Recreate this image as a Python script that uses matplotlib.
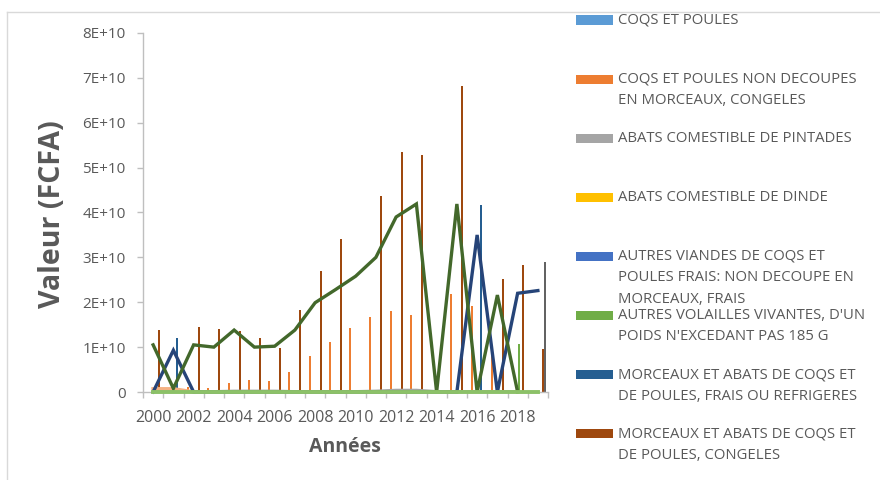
"""
Importations de volailles (FCFA), 2000-2019 : barres groupées + courbes,
façon graphique Excel combiné avec légende tronquée à droite.
"""
import numpy as np
import matplotlib
matplotlib.use("Agg")
import matplotlib.pyplot as plt
from matplotlib.patches import Rectangle
from matplotlib.ticker import FuncFormatter

nan = np.nan

# ── Données (valeurs en 1E+10 FCFA) ───────────────────────────────────────────

YEARS = list(range(2000, 2020))

# séries en barres
NON_DECOUPES_CONGELES = [0, 0, 0.12, 0.10, 0.19, 0.27, 0.25, 0.44, 0.81, 1.11,
                         1.42, 1.68, 1.80, 1.71, 0, 2.18, 1.92, 1.00, 0, 0]
VOLAILLES_VIVANTES = [0, 0, 0, 0, 0, 0, 0, 0, 0, 0,
                      0, 0, 0, 0, 0, 0, 0, 0, 1.08, 0]
MORCEAUX_FRAIS = [0, 1.21, 0, 0, 0, 0, 0, 0, 0, 0,
                  0, 0, 0, 0, 0, 0, 4.16, 0, 0, 0]
MORCEAUX_CONGELES = [1.38, 0, 1.45, 1.40, 1.36, 1.21, 0.99, 1.83, 2.69, 3.42,
                     0, 4.37, 5.34, 5.29, 0, 6.82, 0, 2.52, 2.83, 0.95]
SERIE_9 = [0, 0, 0, 0, 0, 0, 0, 0, 0, 0,
           0, 0, 0, 0, 0, 0, 0, 0, 0, 2.89]

# séries en courbes
COURBE_VERT_FONCE = [1.05, 0.08, 1.05, 1.00, 1.38, 1.00, 1.02, 1.38, 1.99, 2.28,
                     2.58, 3.00, 3.90, 4.19, 0, 4.19, 0, 2.16, 0, nan]
COURBE_BLEU_FONCE = [0, 0.93, 0, 0, 0, 0, 0, 0, 0, 0,
                     0, 0, 0, 0, 0, 0, 3.50, 0, 2.20, 2.26]
COURBE_GRISE = [0.02, 0.02, 0.02, 0.02, 0.03, 0.03, 0.03, 0.02, 0.02, 0.02,
                0.02, 0.03, 0.05, 0.05, 0.02, 0.02, 0.02, 0.02, 0.02, nan]
COURBE_ORANGE_CLAIR = [0.07, 0.07, 0, nan, nan, nan, nan, nan, nan, nan,
                       nan, nan, nan, nan, nan, nan, nan, nan, nan, nan]
COURBE_VERT_CLAIR = [0] * 20

LEGEND_LABELS = [
    "COQS ET POULES",
    "COQS ET POULES NON DECOUPES\nEN MORCEAUX, CONGELES",
    "ABATS COMESTIBLE DE PINTADES",
    "ABATS COMESTIBLE DE DINDE",
    "AUTRES VIANDES DE COQS ET\nPOULES FRAIS: NON DECOUPE EN\nMORCEAUX, FRAIS",
    "AUTRES VOLAILLES VIVANTES, D'UN\nPOIDS N'EXCEDANT PAS 185 G",
    "MORCEAUX ET ABATS DE COQS ET\nDE POULES, FRAIS OU REFRIGERES",
    "MORCEAUX ET ABATS DE COQS ET\nDE POULES, CONGELES",
]
LEGEND_COLORS = ["#5B9BD5", "#ED7D31", "#A5A5A5", "#FFC000",
                 "#4472C4", "#70AD47", "#255E91", "#9E480E"]

# ── Style ─────────────────────────────────────────────────────────────────────

W, H = 880, 480
TXT = "#595959"
AXC = "#BFBFBF"
plt.rcParams["font.family"] = ["Open Sans", "DejaVu Sans"]


def fx(px):
    return px / W


def fy(py):
    return 1 - py / H


fig = plt.figure(figsize=(W / 100, H / 100), dpi=100)
fig.patch.set_facecolor("white")
ax = fig.add_axes([fx(143), fy(392), fx(548) - fx(143), fy(33) - fy(392)])

years = np.array(YEARS)
scale = 1e10

# Excel clustered layout : 9 slots de barres, gap 219 %
N_SLOTS, GAP = 9, 2.19
slot = 1 / (N_SLOTS + GAP)


def slot_x(i):
    return years - 0.5 + (GAP / 2 + i + 0.5) * slot


bars = [
    (NON_DECOUPES_CONGELES, 1, "#ED7D31"),
    (VOLAILLES_VIVANTES, 5, "#70AD47"),
    (MORCEAUX_FRAIS, 6, "#255E91"),
    (MORCEAUX_CONGELES, 7, "#9E480E"),
    (SERIE_9, 8, "#636363"),
]
for vals, i, col in bars:
    ax.bar(slot_x(i), np.array(vals) * scale, width=slot * 1.1,
           color=col, linewidth=0, zorder=2)

lines = [
    (COURBE_GRISE, "#A5A5A5", 1.5),
    (COURBE_ORANGE_CLAIR, "#F4B183", 2.6),
    (COURBE_BLEU_FONCE, "#264478", 2.4),
    (COURBE_VERT_FONCE, "#43682B", 2.4),
    (COURBE_VERT_CLAIR, "#8CC168", 2.8),
]
for k, (vals, col, lw) in enumerate(lines):
    ax.plot(years, np.array(vals) * scale, color=col, lw=lw,
            solid_joinstyle="miter", zorder=3 + k, clip_on=False)

# ── Axes ──────────────────────────────────────────────────────────────────────

ax.set_xlim(1999.5, 2019.5)
ax.set_ylim(0, 8e10)
for s in ("top", "right"):
    ax.spines[s].set_visible(False)
for s in ("left", "bottom"):
    ax.spines[s].set_color(AXC)
    ax.spines[s].set_linewidth(1.0)

ax.set_yticks(np.arange(0, 9) * 1e10)
ax.yaxis.set_major_formatter(
    FuncFormatter(lambda v, _: "0" if v == 0 else f"{v / 1e10:.0f}E+10"))
ax.tick_params(axis="y", direction="out", length=4.5, width=1, color=AXC,
               labelcolor=TXT, labelsize=11, pad=8)

ax.set_xticks(np.arange(1999.5, 2020, 1))
ax.set_xticklabels([])
ax.set_xticks(years[::2], minor=True)
ax.set_xticklabels([str(y) for y in YEARS[::2]], minor=True)
ax.tick_params(axis="x", which="major", direction="out", length=4.5, width=1,
               color=AXC)
ax.tick_params(axis="x", which="minor", length=0, labelcolor=TXT,
               labelsize=11.5, pad=13)

fig.text(fx(345), fy(447), "Années", ha="center", va="center",
         fontsize=14, fontweight="bold", color=TXT)
fig.text(fx(53), fy(214), "Valeur (FCFA)", ha="center", va="center",
         rotation=90, fontsize=20.5, fontweight="bold", color=TXT)

# ── Légende (tronquée, comme dans Excel) ─────────────────────────────────────

for i, (lab, col) in enumerate(zip(LEGEND_LABELS, LEGEND_COLORS)):
    y0 = 20 + 59.1 * i
    fig.add_artist(Rectangle((fx(576), fy(y0 + 4.5)), fx(37), 9 / H,
                             transform=fig.transFigure, facecolor=col,
                             edgecolor="none"))
    for k, line in enumerate(lab.split("\n")):
        fig.text(fx(618), fy(y0 + 21.5 * k), line, ha="left", va="center",
                 fontsize=10.7, color=TXT)

# bordure de la zone de graphique
fig.add_artist(plt.Line2D([fx(7), fx(7)], [fy(12), 0], color="#D9D9D9",
                          lw=1, transform=fig.transFigure))
fig.add_artist(plt.Line2D([fx(7), 1], [fy(12), fy(12)], color="#D9D9D9",
                          lw=1, transform=fig.transFigure))

fig.savefig("out.png", dpi=100, facecolor="white")
